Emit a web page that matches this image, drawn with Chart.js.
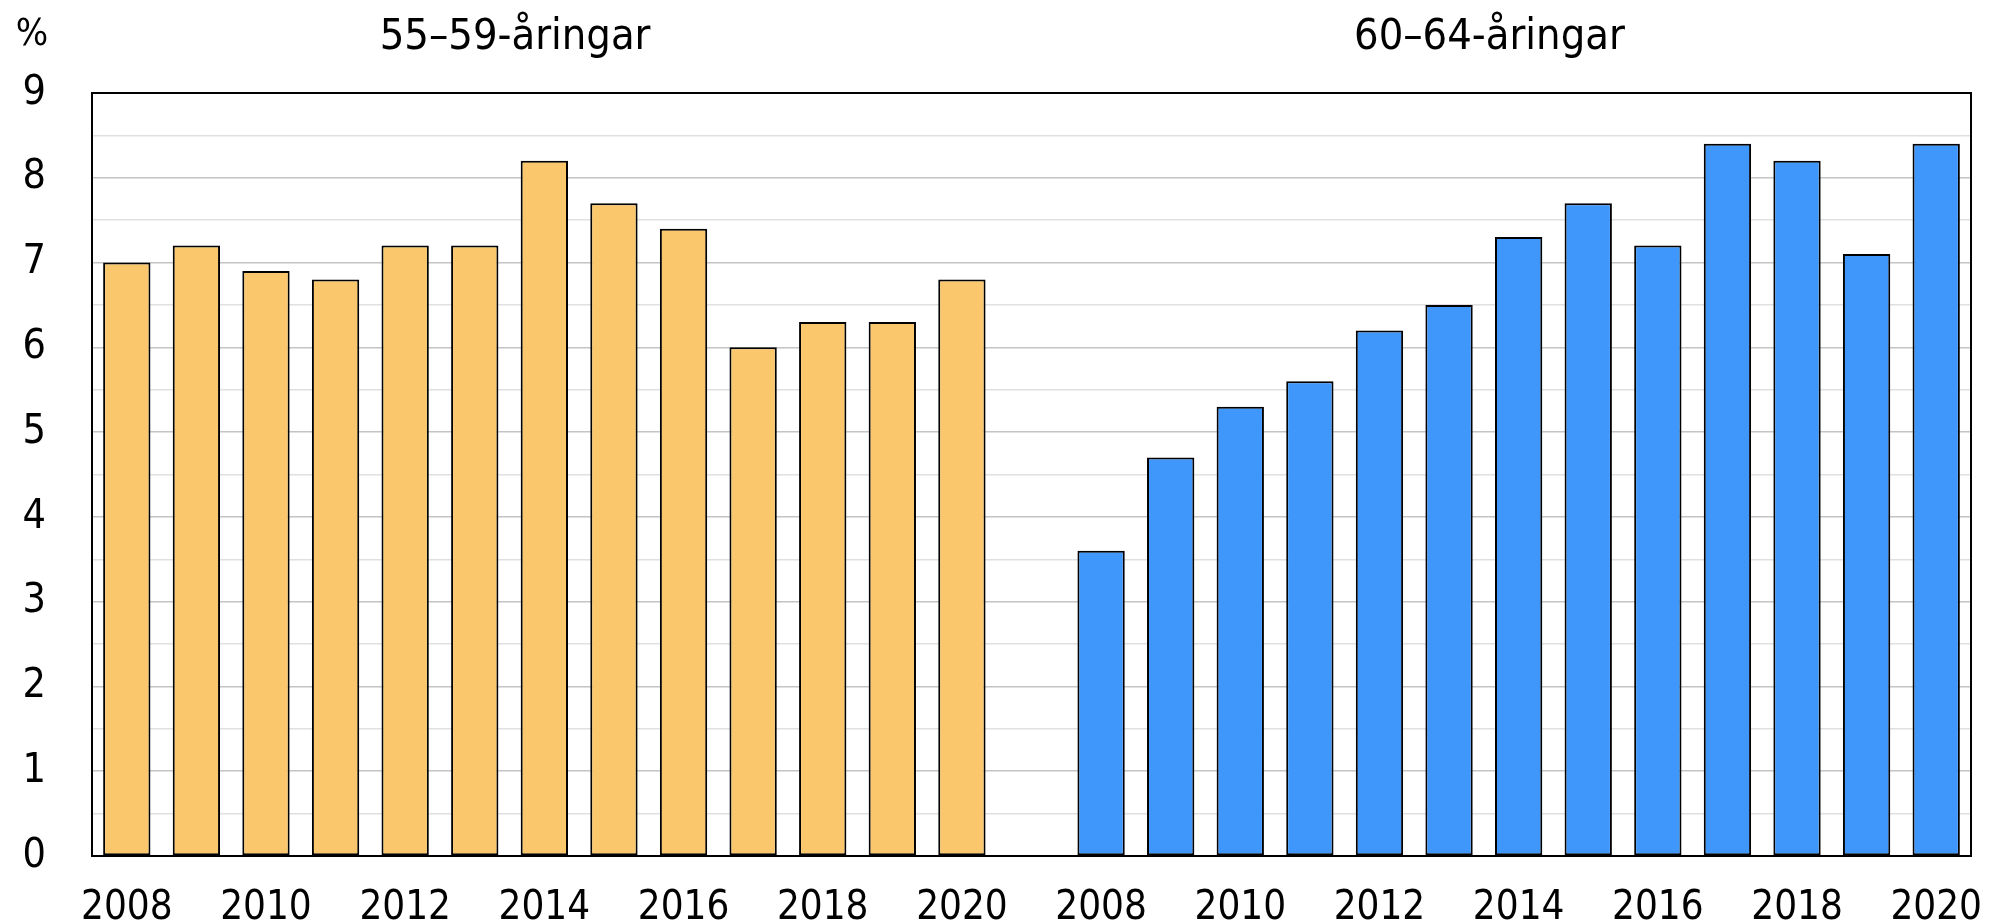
<!DOCTYPE html>
<html>
<head>
<meta charset="utf-8">
<script src="https://cdn.jsdelivr.net/npm/chart.js@4"></script>
<style>
  html, body { margin: 0; padding: 0; background: #fff; }
  #wrap { width: 1994px; height: 921px; }
</style>
</head>
<body>
<div id="wrap"><canvas id="ageChart" width="1994" height="921"></canvas></div>
<script>
// Andel (%) per år, två åldersgrupper
const years = ['2008', '2009', '2010', '2011', '2012', '2013', '2014', '2015', '2016', '2017', '2018', '2019', '2020'];
const groupTitles = ['55–59-åringar', '60–64-åringar'];
const values5559 = [7.0, 7.2, 6.9, 6.8, 7.2, 7.2, 8.2, 7.7, 7.4, 6.0, 6.3, 6.3, 6.8];
const values6064 = [3.6, 4.7, 5.3, 5.6, 6.2, 6.5, 7.3, 7.7, 7.2, 8.4, 8.2, 7.1, 8.4];
const yTicks = [0, 1, 2, 3, 4, 5, 6, 7, 8, 9];

const FONT = "'DejaVu Sans Condensed', 'Liberation Sans', sans-serif";

// one empty slot between the groups
const labels = years.concat([''], years);
const gap = [null];
const blanks = years.map(() => null);
const data5559 = values5559.concat(gap, blanks);
const data6064 = blanks.concat(gap, values6064);

const frameAndTitles = {
    id: 'frameAndTitles',
    afterDraw(chart) {
        const { ctx, chartArea, scales } = chart;
        ctx.save();
        ctx.strokeStyle = '#000';
        ctx.lineWidth = 2;
        ctx.strokeRect(chartArea.left, chartArea.top, chartArea.right - chartArea.left, chartArea.bottom - chartArea.top);

        ctx.fillStyle = '#000';
        ctx.textBaseline = 'middle';
        ctx.textAlign = 'center';
        ctx.font = '43px ' + FONT;
        const step = scales.x.getPixelForValue(1) - scales.x.getPixelForValue(0);
        const mid1 = scales.x.getPixelForValue((years.length - 1) / 2) - 0.42 * step;
        const mid2 = scales.x.getPixelForValue(years.length + 1 + (years.length - 1) / 2) - 0.42 * step;
        ctx.fillText(groupTitles[0], mid1, 38);
        ctx.fillText(groupTitles[1], mid2, 38);
        ctx.font = '38px ' + FONT;
        ctx.fillText('%', 32, 35);
        ctx.restore();
    }
};

new Chart(document.getElementById('ageChart'), {
    type: 'bar',
    data: {
        labels: labels,
        datasets: [{
            label: groupTitles[0],
            data: data5559,
            backgroundColor: '#FBC76D',
            borderColor: '#000',
            borderWidth: 2,
            borderSkipped: false,
            barPercentage: 0.68,
            categoryPercentage: 1.0
        }, {
            label: groupTitles[1],
            data: data6064,
            backgroundColor: '#4097FB',
            borderColor: '#000',
            borderWidth: 2,
            borderSkipped: false,
            barPercentage: 0.68,
            categoryPercentage: 1.0
        }]
    },
    options: {
        responsive: false,
        animation: false,
        layout: { padding: { top: 93, right: 23, left: 0, bottom: 0 } },
        plugins: {
            legend: { display: false },
            tooltip: { enabled: false }
        },
        scales: {
            x: {
                stacked: true,
                grid: { display: false },
                border: { color: '#000', width: 2 },
                ticks: {
                    autoSkip: false,
                    maxRotation: 0,
                    padding: 21,
                    color: '#000',
                    font: { family: FONT, size: 40 },
                    callback: function(value, index) {
                        const lab = labels[index];
                        return lab && Number(lab) % 2 === 0 ? lab : '';
                    }
                },
                afterFit: function(axis) {
                    axis.height = 65;
                    axis.paddingLeft = 0;
                    axis.paddingRight = 0;
                }
            },
            y: {
                stacked: true,
                min: 0,
                max: yTicks[yTicks.length - 1],
                border: { color: '#000', width: 2 },
                grid: {
                    drawTicks: false,
                    color: function(c) {
                        return Number.isInteger(c.tick.value) ? '#c4c4c4' : '#e0e0e0';
                    },
                    lineWidth: 1.5
                },
                ticks: {
                    stepSize: 0.5,
                    autoSkip: false,
                    padding: 46,
                    color: '#000',
                    font: { family: FONT, size: 41 },
                    callback: function(value) {
                        return yTicks.includes(value) ? value : '';
                    }
                },
                afterFit: function(axis) {
                    axis.width = 92;
                    axis.paddingTop = 0;
                    axis.paddingBottom = 0;
                }
            }
        }
    },
    plugins: [frameAndTitles]
});
</script>
</body>
</html>
